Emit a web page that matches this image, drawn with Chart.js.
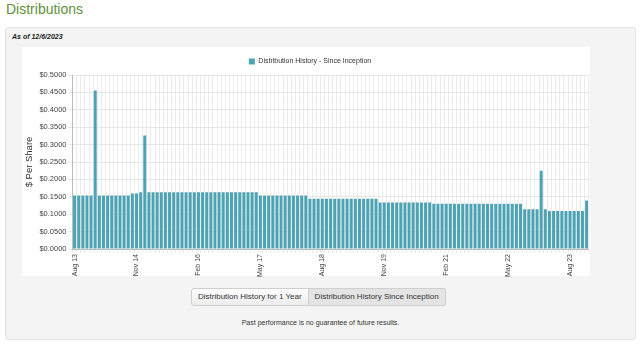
<!DOCTYPE html>
<html>
<head>
<meta charset="utf-8">
<script src="https://cdn.jsdelivr.net/npm/chart.js@4.4.0/dist/chart.umd.min.js"></script>
<style>
  body { margin: 0; background: #fff; font-family: Arial, "Liberation Sans", sans-serif; width: 640px; height: 345px; overflow: hidden; position: relative; }
  h1 { position: absolute; left: 6px; top: 1px; margin: 0; font-size: 14px; font-weight: normal; color: #62913a; }
  .panel { position: absolute; left: 5px; top: 27px; width: 629px; height: 311px; background: #f4f4f4; border: 1px solid #e3e3e3; border-radius: 3px; }
  .asof { position: absolute; left: 6px; top: 5px; font-size: 7px; font-weight: bold; font-style: italic; color: #222; }
  .chartbox { position: absolute; left: 16px; top: 19px; width: 568px; height: 229px; background: #fff; }
  .canvaswrap { position: absolute; left: 12px; top: 19px; width: 578px; height: 231px; }
  .btns { position: absolute; left: 185px; top: 260px; display: flex; }
  .btn { height: 16px; line-height: 16px; padding: 0 6px; font-size: 8px; color: #333; border: 1px solid #cfcfcf; }
  .btn.a { background: linear-gradient(#ffffff, #ececec); border-radius: 3px 0 0 3px; }
  .btn.b { background: #e4e4e4; border-left: none; border-radius: 0 3px 3px 0; }
  .note { position: absolute; left: 0; width: 629px; top: 291px; text-align: center; font-size: 7px; color: #333; }
</style>
</head>
<body>
<h1>Distributions</h1>
<div class="panel">
  <div class="asof">As of 12/6/2023</div>
  <div class="chartbox"></div>
  <div class="canvaswrap"><canvas id="chart_dist"></canvas></div>
  <div class="btns"><div class="btn a">Distribution History for 1 Year</div><div class="btn b">Distribution History Since Inception</div></div>
  <div class="note">Past performance is no guarantee of future results.</div>
</div>
<script>
// monthly pay dates, Aug 2013 .. Dec 2023
const months = [
  'Aug 13','Sep 13','Oct 13','Nov 13','Dec 13',
  'Jan 14','Feb 14','Mar 14','Apr 14','May 14','Jun 14','Jul 14','Aug 14','Sep 14','Oct 14','Nov 14','Dec 14',
  'Jan 15','Feb 15','Mar 15','Apr 15','May 15','Jun 15','Jul 15','Aug 15','Sep 15','Oct 15','Nov 15','Dec 15',
  'Jan 16','Feb 16','Mar 16','Apr 16','May 16','Jun 16','Jul 16','Aug 16','Sep 16','Oct 16','Nov 16','Dec 16',
  'Jan 17','Feb 17','Mar 17','Apr 17','May 17','Jun 17','Jul 17','Aug 17','Sep 17','Oct 17','Nov 17','Dec 17',
  'Jan 18','Feb 18','Mar 18','Apr 18','May 18','Jun 18','Jul 18','Aug 18','Sep 18','Oct 18','Nov 18','Dec 18',
  'Jan 19','Feb 19','Mar 19','Apr 19','May 19','Jun 19','Jul 19','Aug 19','Sep 19','Oct 19','Nov 19','Dec 19',
  'Jan 20','Feb 20','Mar 20','Apr 20','May 20','Jun 20','Jul 20','Aug 20','Sep 20','Oct 20','Nov 20','Dec 20',
  'Jan 21','Feb 21','Mar 21','Apr 21','May 21','Jun 21','Jul 21','Aug 21','Sep 21','Oct 21','Nov 21','Dec 21',
  'Jan 22','Feb 22','Mar 22','Apr 22','May 22','Jun 22','Jul 22','Aug 22','Sep 22','Oct 22','Nov 22','Dec 22',
  'Jan 23','Feb 23','Mar 23','Apr 23','May 23','Jun 23','Jul 23','Aug 23','Sep 23','Oct 23','Nov 23','Dec 23'
];

// $ per share, one per month
const distributions = [
  0.1538, 0.1538, 0.1538, 0.1538, 0.1538,
  0.4558, 0.1538, 0.1538, 0.1538, 0.1538, 0.1538, 0.1538, 0.1538, 0.1538, 0.1596, 0.1596, 0.1635,
  0.3265, 0.1635, 0.1635, 0.1635, 0.1635, 0.1635, 0.1635, 0.1635, 0.1635, 0.1635, 0.1635, 0.1635,
  0.1635, 0.1635, 0.1635, 0.1635, 0.1635, 0.1635, 0.1635, 0.1635, 0.1635, 0.1635, 0.1635, 0.1635,
  0.1635, 0.1635, 0.1635, 0.1635, 0.1538, 0.1538, 0.1538, 0.1538, 0.1538, 0.1538, 0.1538, 0.1538,
  0.1538, 0.1538, 0.1538, 0.1538, 0.1442, 0.1442, 0.1442, 0.1442, 0.1442, 0.1442, 0.1442, 0.1442,
  0.1442, 0.1442, 0.1442, 0.1442, 0.1442, 0.1442, 0.1442, 0.1442, 0.1442, 0.1337, 0.1337, 0.1337,
  0.1337, 0.1337, 0.1337, 0.1337, 0.1337, 0.1337, 0.1337, 0.1337, 0.1337, 0.1337, 0.1298, 0.1298,
  0.1298, 0.1298, 0.1298, 0.1298, 0.1298, 0.1298, 0.1298, 0.1298, 0.1298, 0.1298, 0.1298, 0.1298,
  0.1298, 0.1298, 0.1298, 0.1298, 0.1298, 0.1298, 0.1298, 0.1298, 0.1144, 0.1144, 0.1144, 0.1144,
  0.2250, 0.1144, 0.1096, 0.1096, 0.1096, 0.1096, 0.1096, 0.1096, 0.1096, 0.1096, 0.1096, 0.1394
];

// only these months get a label on the x axis
const xTickLabels = ['Aug 13', 'Nov 14', 'Feb 16', 'May 17', 'Aug 18', 'Nov 19', 'Feb 21', 'May 22', 'Aug 23'];

const seriesName = 'Distribution History - Since Inception';
const barColor = '#4ba3b4';
const fontFamily = 'Arial, "Liberation Sans", sans-serif';

new Chart(document.getElementById('chart_dist'), {
  type: 'bar',
  data: {
    labels: months,
    datasets: [{
      label: seriesName,
      data: distributions,
      backgroundColor: barColor,
      borderWidth: 0,
      barPercentage: 0.8,
      categoryPercentage: 0.9,
    }],
  },
  options: {
    responsive: true,
    maintainAspectRatio: false,
    animation: false,
    layout: { padding: { left: 6, right: 0, top: 2, bottom: 0 } },
    plugins: {
      tooltip: { enabled: false },
      legend: {
        display: true,
        position: 'top',
        labels: {
          boxWidth: 6,
          boxHeight: 6,
          padding: 9,
          color: '#333',
          font: { family: fontFamily, size: 7 },
        },
      },
    },
    scales: {
      x: {
        grid: { color: '#ececec', tickLength: 4, drawTicks: true },
        border: { color: '#bbb' },
        ticks: {
          autoSkip: false,
          maxRotation: 90,
          minRotation: 90,
          padding: 1,
          color: '#444',
          font: { family: fontFamily, size: 7 },
          callback: function (value) {
            const label = this.getLabelForValue(value);
            return xTickLabels.includes(label) ? label : '';
          },
        },
      },
      y: {
        min: 0,
        max: 0.5,
        grid: { color: '#e6e6e6', tickLength: 4 },
        border: { color: '#bbb' },
        ticks: {
          stepSize: 0.05,
          padding: 2,
          color: '#444',
          font: { family: fontFamily, size: 7.5 },
          callback: (v) => '$' + v.toFixed(4),
        },
        title: {
          display: true,
          text: '$ Per Share',
          color: '#333',
          padding: { top: 0, bottom: 2 },
          font: { family: fontFamily, size: 9.5 },
        },
      },
    },
  },
});
</script>
</body>
</html>
